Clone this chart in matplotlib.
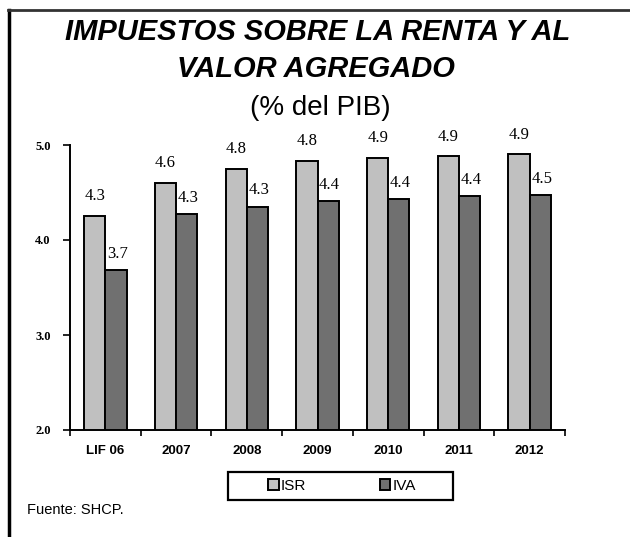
import matplotlib.pyplot as plt
import matplotlib.lines as mlines
import matplotlib.patches as mpatches
import numpy as np

# values (% of GDP)
categories = ["LIF 06", "2007", "2008", "2009", "2010", "2011", "2012"]
isr = [4.25, 4.60, 4.75, 4.83, 4.86, 4.88, 4.90]
iva = [3.68, 4.27, 4.35, 4.41, 4.43, 4.46, 4.47]
isr_labels = ["4.3", "4.6", "4.8", "4.8", "4.9", "4.9", "4.9"]
iva_labels = ["3.7", "4.3", "4.3", "4.4", "4.4", "4.4", "4.5"]

plt.rcParams['font.family'] = ['Liberation Sans', 'DejaVu Sans']

fig = plt.figure(figsize=(6.3, 5.37), dpi=100)
ax = fig.add_axes([70 / 630, 1 - 430 / 537, 495 / 630, 285 / 537])

x = np.arange(len(categories))
w = 0.3
b1 = ax.bar(x - w / 2, isr, w, color="#c0c0c0", edgecolor="black", linewidth=1.4, label="ISR")
b2 = ax.bar(x + w / 2, iva, w, color="#707070", edgecolor="black", linewidth=1.4, label="IVA")

for bar, lab in zip(b1, isr_labels):
    ax.annotate(lab, xy=(bar.get_x() + bar.get_width() / 2, bar.get_height()),
                xytext=(0, 8.5), textcoords="offset points", ha="center", va="bottom",
                fontsize=12, family="Liberation Serif")
for bar, lab in zip(b2, iva_labels):
    ax.annotate(lab, xy=(bar.get_x() + bar.get_width() / 2 + 0.02, bar.get_height()),
                xytext=(0, 6), textcoords="offset points", ha="center", va="bottom",
                fontsize=12, family="Liberation Serif")

ax.set_ylim(2.0, 5.0)
ax.set_xlim(-0.5, 6.5)
ax.set_yticks([2.0, 3.0, 4.0, 5.0])
ax.set_yticklabels(["2.0", "3.0", "4.0", "5.0"], fontsize=9, fontweight="bold",
                   family="Liberation Serif")
ax.set_xticks(x)
ax.set_xticklabels(categories, fontsize=9.5, fontweight="bold")
ax.set_xticks(np.arange(-0.5, 7, 1), minor=True)
ax.tick_params(axis="x", which="major", length=0, pad=11)
ax.tick_params(axis="x", which="minor", length=4, width=1.2, direction="out")
ax.tick_params(axis="y", length=5, width=1.2, direction="out", pad=9)
for s in ["top", "right"]:
    ax.spines[s].set_visible(False)
for s in ["left", "bottom"]:
    ax.spines[s].set_linewidth(1.4)

# titles
fig.text(318 / 630, 1 - 32 / 537, "IMPUESTOS SOBRE LA RENTA Y AL", ha="center", va="center",
         fontsize=21, fontweight="bold", style="italic")
fig.text(316 / 630, 1 - 69 / 537, "VALOR AGREGADO", ha="center", va="center",
         fontsize=21, fontweight="bold", style="italic")
fig.text(320 / 630, 1 - 108 / 537, "(% del PIB)", ha="center", va="center", fontsize=20)

# legend with a separate box
leg = fig.legend(loc="center", bbox_to_anchor=(342 / 630, 1 - 486 / 537), ncol=2,
                 fontsize=11, frameon=False,
                 handlelength=0.7, handleheight=0.7, handletextpad=0.15,
                 columnspacing=4.8, borderpad=0.2)
fig.add_artist(mpatches.Rectangle((228 / 630, 1 - 500 / 537), 225 / 630, 28 / 537,
                                  transform=fig.transFigure, fill=False,
                                  edgecolor="black", linewidth=1.6))

fig.text(27 / 630, 1 - 510 / 537, "Fuente: SHCP.", ha="left", va="center", fontsize=10.5)

# frame lines
fig.add_artist(mlines.Line2D([9 / 630, 9 / 630], [0, 1 - 10 / 537], color="black", linewidth=2.5))
fig.add_artist(mlines.Line2D([8 / 630, 1], [1 - 10 / 537, 1 - 10 / 537], color="#333333", linewidth=2))

fig.savefig("out.png", dpi=100)
